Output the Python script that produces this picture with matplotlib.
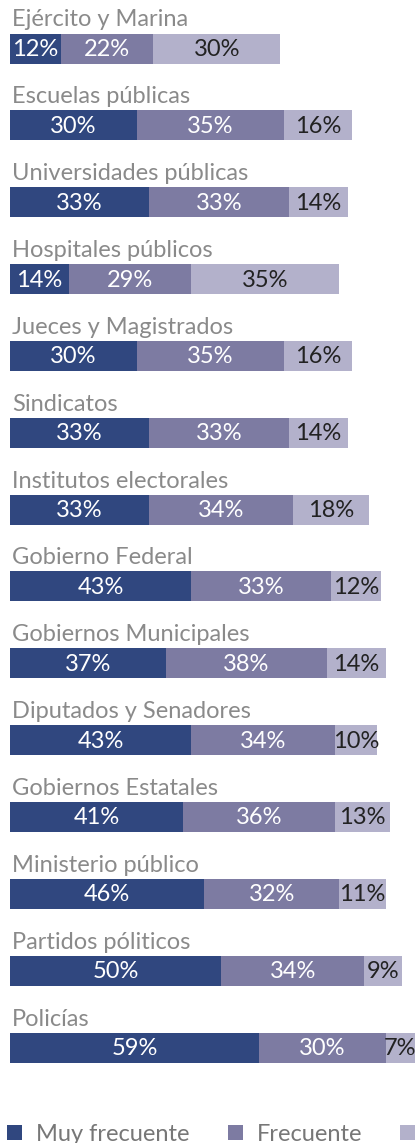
import numpy as np
import matplotlib.pyplot as plt

plt.rcParams['font.family'] = ['Lato', 'DejaVu Sans']

categories = ['Ejército y Marina', 'Escuelas públicas', 'Universidades públicas',
              'Hospitales públicos', 'Jueces y Magistrados', 'Sindicatos',
              'Institutos electorales', 'Gobierno Federal', 'Gobiernos Municipales',
              'Diputados y Senadores', 'Gobiernos Estatales', 'Ministerio público',
              'Partidos póliticos', 'Policías']
muy_frecuente = [12, 30, 33, 14, 30, 33, 33, 43, 37, 43, 41, 46, 50, 59]
frecuente = [22, 35, 33, 29, 35, 33, 34, 33, 38, 34, 36, 32, 34, 30]
poco_frecuente = [30, 16, 14, 35, 16, 14, 18, 12, 14, 10, 13, 11, 9, 7]
series_names = ['Muy frecuente', 'Frecuente', 'Poco frecuente']
colors = ['#30477f', '#7d7ba2', '#b3b1cb']
text_colors = ['white', 'white', '#222222']

W, H = 420, 1143
fig = plt.figure(figsize=(W / 100, H / 100), dpi=100)
ax = fig.add_axes([0, 0, 1, 1])
px = 4.22  # pixels per percent
ax.set_xlim(-10 / px, (W - 10) / px)
ax.set_ylim(H, 0)
ax.axis('off')

step = 76.85
y = 48.5 + step * np.arange(len(categories))
bar_h = 30

left = np.zeros(len(categories))
for vals, col, tcol, name in zip([muy_frecuente, frecuente, poco_frecuente], colors, text_colors, series_names):
    vals = np.array(vals)
    ax.barh(y, vals, left=left, height=bar_h, color=col, label=name, linewidth=0)
    for yi, l, v in zip(y, left, vals):
        ax.text(l + v / 2, yi + 1, '%d%%' % v, ha='center', va='center',
                color=tcol, fontsize=17)
    left = left + vals

for yi, cat in zip(y, categories):
    ax.text(2 / px, yi - bar_h / 2 - 7, cat, ha='left', va='baseline',
            color='#8a8a8a', fontsize=17)

F = 17
u = F * 1.389  # legend units in pixels
fig.legend(loc='lower left', bbox_to_anchor=(-14 / W, -23 / H), ncol=3, frameon=False,
           handlelength=15 / u, handleheight=15 / u,
           handletextpad=14 / u, columnspacing=38 / u,
           labelcolor='#777777', prop={'size': F})

fig.savefig('out.png', dpi=100)
